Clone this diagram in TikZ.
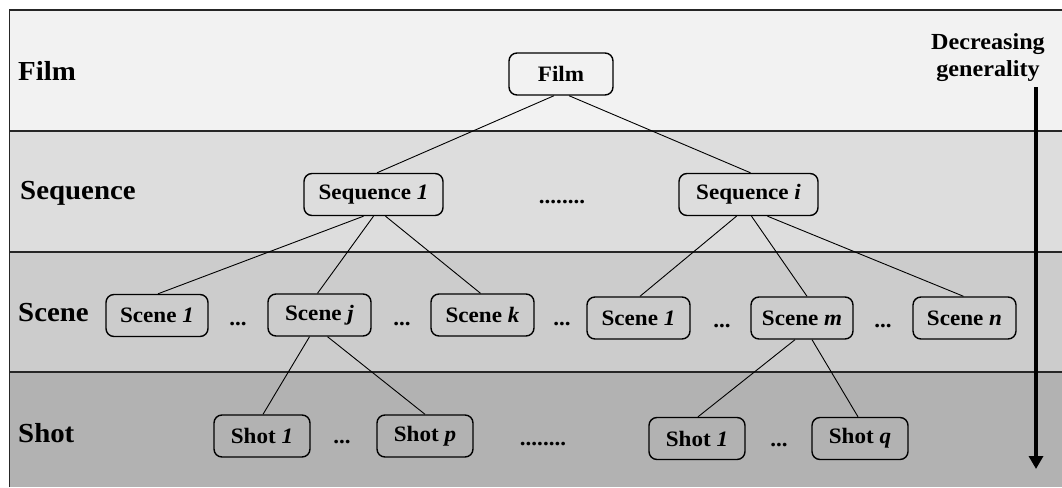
\documentclass[tikz,border=0pt]{standalone}
\usepackage{fontspec}
\setmainfont{Liberation Serif}[FakeStretch=1.05]
\usetikzlibrary{calc,arrows.meta}

\definecolor{filmbg}{gray}{0.95}
\definecolor{seqbg}{gray}{0.867}
\definecolor{scenebg}{gray}{0.80}
\definecolor{shotbg}{gray}{0.70}

\begin{document}
\begin{tikzpicture}[x=1pt,y=-1pt,
  frameline/.style={draw=black!85, line width=1.3pt},
  lvl/.style={anchor=base west, inner sep=0, font=\fontsize{27.5}{30}\selectfont\bfseries},
  box/.style={draw, line width=1.4pt, rounded corners=8pt, minimum height=42pt,
    inner sep=0, font=\fontsize{22}{24}\selectfont\bfseries},
  dots/.style={anchor=base, inner sep=0, font=\fontsize{22}{24}\selectfont\bfseries},
  link/.style={line width=0.9pt}]

\useasboundingbox (0,0) rectangle (1062,487);

% level bands
\fill[filmbg]  (9.5,10)  rectangle (1062,131);
\fill[seqbg]   (9.5,131) rectangle (1062,252);
\fill[scenebg] (9.5,252) rectangle (1062,372);
\fill[shotbg]  (9.5,372) rectangle (1062,487);
\draw[frameline] (9.5,487) -- (9.5,10) -- (1062,10);
\draw[frameline] (9.5,131) -- (1062,131);
\draw[frameline] (9.5,252) -- (1062,252);
\draw[frameline] (9.5,372) -- (1062,372);

% level names
\node[lvl] (lfilm)  at (18,80)  {Film};
\node[lvl] (lseq)   at (20,199) {Sequence};
\node[lvl] (lscene) at (18,321) {Scene};
\node[lvl] (lshot)  at (18,442) {Shot};

% film level
\node[box, minimum width=104pt] (film) at (561,74) {Film};

% sequence level
\node[box, minimum width=139pt] (seq1) at (373.5,194.5) {Sequence \textit{1}};
\node[box, minimum width=139pt] (seqi) at (748.5,194.5) {Sequence \textit{i}};
\node[dots] (dseq) at (562,203) {........};

% scene level
\node[box, minimum width=102pt] (sc1)  at (157,315.5) {Scene \textit{1}};
\node[box, minimum width=103pt] (scj)  at (319.5,315) {Scene \textit{j}};
\node[box, minimum width=103pt] (sck)  at (482.5,315) {Scene \textit{k}};
\node[box, minimum width=103pt] (scr1) at (638.5,318) {Scene \textit{1}};
\node[box, minimum width=102pt] (scm)  at (802,318)   {Scene \textit{m}};
\node[box, minimum width=103pt] (scn)  at (964.5,318) {Scene \textit{n}};
\node[dots] (dsc1) at (238,325) {...};
\node[dots] (dsc2) at (402,325) {...};
\node[dots] (dsc3) at (562,325) {...};
\node[dots] (dsc4) at (722,327) {...};
\node[dots] (dsc5) at (883,327) {...};

% shot level
\node[box, minimum width=96pt] (sh1)  at (262,436)   {Shot \textit{1}};
\node[box, minimum width=96pt] (shp)  at (425,436)   {Shot \textit{p}};
\node[box, minimum width=96pt] (shr1) at (697,438.5) {Shot \textit{1}};
\node[box, minimum width=96pt] (shq)  at (860,438.5) {Shot \textit{q}};
\node[dots] (dsh1) at (342,443) {...};
\node[dots] (dsh2) at (543,445) {........};
\node[dots] (dsh3) at (779,446) {...};

% hierarchy links
\draw[link] ($(film.south)+(-7,0)$) -- ($(seq1.north)+(3.5,0)$);
\draw[link] ($(film.south)+(8,0)$)  -- ($(seqi.north)+(2,0)$);
\draw[link] ($(seq1.south)+(-10,0)$) -- ($(sc1.north)+(1,0)$);
\draw[link] (seq1.south) -- ($(scj.north)+(-2,0)$);
\draw[link] ($(seq1.south)+(12,0)$) -- ($(sck.north)+(-2,0)$);
\draw[link] ($(seqi.south)+(-12,0)$) -- ($(scr1.north)+(1.5,0)$);
\draw[link] ($(seqi.south)+(3,0)$)  -- ($(scm.north)+(5,0)$);
\draw[link] ($(seqi.south)+(19,0)$) -- ($(scn.north)+(-1,0)$);
\draw[link] ($(scj.south)+(-10,0)$) -- ($(sh1.north)+(1,0)$);
\draw[link] ($(scj.south)+(8,0)$)   -- (shp.north);
\draw[link] ($(scm.south)+(-7,0)$)  -- ($(shr1.north)+(1,0)$);
\draw[link] ($(scm.south)+(10,0)$)  -- ($(shq.north)+(-2,0)$);

% generality arrow
\node[anchor=base, align=center, inner sep=0,
      font=\fontsize{23}{26}\selectfont\bfseries] (gen) at (988,76) {Decreasing\\generality};
\coordinate (gtop) at (1036,87);
\coordinate (gbot) at (1036,469);
\draw[line width=3.5pt, -{Triangle[width=14pt,length=13pt]}] (gtop) -- (gbot);
\end{tikzpicture}
\end{document}
